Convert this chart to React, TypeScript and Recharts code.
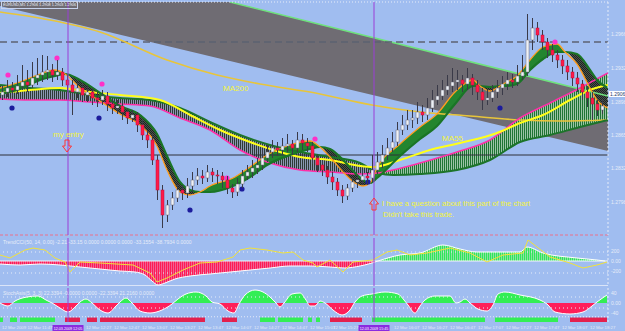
import React from 'react';
import { ComposedChart, Area, Line, Bar, Scatter, XAxis, YAxis, ReferenceLine, ReferenceDot, ReferenceArea } from 'recharts';

const W = 625;
const BG = '#a0bdf0';
const FONT = '"Liberation Sans", Arial, sans-serif';
const T_MAX = 121.6; // bar slots across the 608px plot

// candles, price in points (2906 -> 1.2906)
const opens = [
  2905, 2908, 2912, 2910, 2914, 2918, 2915, 2922, 2925, 2928,
  2930, 2925, 2928, 2920, 2915, 2908, 2912, 2905, 2908, 2902,
  2900, 2904, 2896, 2892, 2894, 2888, 2882, 2885, 2875, 2865,
  2860, 2840, 2810, 2785, 2795, 2802, 2810, 2807, 2814, 2820,
  2824, 2822, 2828, 2825, 2824, 2820, 2812, 2808, 2816, 2824,
  2828, 2832, 2835, 2842, 2848, 2852, 2850, 2854, 2856, 2852,
  2860, 2857, 2854, 2842, 2835, 2830, 2823, 2818, 2810, 2804,
  2812, 2818, 2820, 2824, 2822, 2830, 2838, 2845, 2852, 2858,
  2870, 2875, 2880, 2882, 2888, 2885, 2892, 2900, 2904, 2910,
  2914, 2918, 2920, 2916, 2922, 2915, 2908, 2900, 2902, 2908,
  2912, 2916, 2920, 2918, 2924, 2928, 2960, 2972, 2965, 2958,
  2950, 2945, 2940, 2934, 2928, 2922, 2916, 2908, 2902, 2896,
  2890,
];
const closes = [
  2908, 2912, 2910, 2914, 2918, 2915, 2922, 2925, 2928, 2930,
  2925, 2928, 2920, 2915, 2908, 2912, 2905, 2908, 2902, 2900,
  2904, 2896, 2892, 2894, 2888, 2882, 2885, 2875, 2865, 2860,
  2840, 2810, 2785, 2795, 2802, 2810, 2807, 2814, 2820, 2824,
  2822, 2828, 2825, 2824, 2820, 2812, 2808, 2816, 2824, 2828,
  2832, 2835, 2842, 2848, 2852, 2850, 2854, 2856, 2852, 2860,
  2857, 2854, 2842, 2835, 2830, 2823, 2818, 2810, 2804, 2812,
  2818, 2820, 2824, 2822, 2830, 2838, 2845, 2852, 2858, 2870,
  2875, 2880, 2882, 2888, 2885, 2892, 2900, 2904, 2910, 2914,
  2918, 2920, 2916, 2922, 2915, 2908, 2900, 2902, 2908, 2912,
  2916, 2920, 2918, 2924, 2928, 2960, 2972, 2965, 2958, 2950,
  2945, 2940, 2934, 2928, 2922, 2916, 2908, 2902, 2896, 2890,
  2894,
];
const highs = [
  2914, 2920, 2918, 2925, 2935, 2930, 2938, 2942, 2945, 2944,
  2936, 2940, 2932, 2925, 2920, 2918, 2916, 2915, 2912, 2908,
  2910, 2908, 2900, 2900, 2898, 2892, 2890, 2888, 2880, 2870,
  2866, 2845, 2815, 2800, 2808, 2816, 2815, 2822, 2828, 2832,
  2830, 2835, 2832, 2830, 2828, 2824, 2816, 2822, 2830, 2835,
  2840, 2842, 2850, 2855, 2860, 2858, 2862, 2866, 2860, 2868,
  2866, 2862, 2858, 2846, 2840, 2834, 2828, 2822, 2815, 2816,
  2822, 2825, 2830, 2828, 2845, 2848, 2855, 2862, 2868, 2878,
  2885, 2890, 2890, 2898, 2895, 2902, 2910, 2915, 2920, 2925,
  2932, 2930, 2925, 2932, 2926, 2920, 2912, 2910, 2915, 2920,
  2924, 2928, 2926, 2935, 2945, 2986, 2982, 2978, 2970, 2962,
  2956, 2950, 2945, 2940, 2933, 2928, 2920, 2914, 2908, 2900,
  2900,
];
const lows = [
  2900, 2903, 2904, 2906, 2910, 2908, 2912, 2915, 2918, 2920,
  2918, 2920, 2914, 2908, 2885, 2902, 2898, 2898, 2895, 2893,
  2895, 2889, 2886, 2886, 2880, 2876, 2878, 2868, 2860, 2852,
  2835, 2800, 2772, 2778, 2790, 2798, 2800, 2802, 2808, 2815,
  2816, 2818, 2818, 2816, 2812, 2806, 2802, 2804, 2812, 2820,
  2822, 2826, 2830, 2838, 2842, 2844, 2845, 2848, 2845, 2848,
  2850, 2848, 2836, 2828, 2824, 2816, 2810, 2804, 2797, 2800,
  2808, 2812, 2815, 2815, 2818, 2826, 2832, 2840, 2848, 2854,
  2865, 2870, 2872, 2876, 2878, 2880, 2888, 2895, 2900, 2905,
  2908, 2910, 2908, 2910, 2905, 2900, 2890, 2895, 2898, 2902,
  2905, 2910, 2912, 2914, 2920, 2924, 2950, 2958, 2950, 2942,
  2938, 2932, 2926, 2920, 2914, 2908, 2900, 2893, 2880, 2884,
  2886,
];

// fast ribbon (orange fast MA / green MA)
const fastT = [0, 4, 8, 11, 13, 16, 20, 24, 28, 31.4, 33.4, 36, 38, 40, 42, 46.6, 50, 53.4, 58, 62, 64, 66, 69, 71, 72.6, 74, 75.4, 80, 84, 87.4, 91, 94.6, 96, 98, 100, 101, 103.4, 106, 108.6, 111.4, 113, 115.4, 118, 119.4, 121.6];
const fastOrange = [2912, 2918, 2926, 2930, 2926, 2912, 2899, 2886, 2875, 2854, 2830, 2808, 2805, 2808, 2814, 2822, 2833, 2845, 2855, 2859, 2853, 2843, 2826, 2817, 2814, 2817, 2832, 2856, 2873, 2886, 2908, 2920, 2914, 2909, 2914, 2917, 2924, 2940, 2953, 2956, 2948, 2936, 2912, 2900, 2892];
const fastGreen = [2906, 2911, 2920, 2924, 2926, 2920, 2907, 2894, 2885, 2866, 2844, 2818, 2810, 2808, 2808, 2814, 2823, 2835, 2845, 2851, 2853, 2851, 2838, 2827, 2820, 2817, 2822, 2844, 2861, 2874, 2896, 2914, 2914, 2913, 2914, 2914, 2916, 2930, 2941, 2948, 2948, 2946, 2930, 2920, 2912];

// slow band (pink MA / green MA)
const slowT = [0, 6, 12, 18, 24, 30, 36, 42, 48, 54, 60, 66, 72, 75.6, 78.6, 84, 91.4, 98, 104, 110, 116, 121.6];
const slowPink = [2901, 2900, 2900, 2898, 2896, 2894, 2882, 2870, 2850, 2837, 2830, 2828, 2826, 2827, 2830, 2837, 2848, 2860, 2882, 2897, 2912, 2927];
const slowGreen = [2915, 2912, 2910, 2905, 2902, 2900, 2892, 2878, 2865, 2855, 2848, 2843, 2837, 2827, 2825, 2826, 2830, 2840, 2858, 2865, 2873, 2880];

const ma55T = [0, 6, 12, 18, 24, 32, 38, 44, 50, 56, 60, 66, 72, 74.6, 80, 86, 92, 99.4, 104, 108.6, 114, 118, 121.6];
const ma55 = [2907, 2910, 2912, 2908, 2905, 2900, 2885, 2870, 2858, 2848, 2843, 2840, 2834, 2833, 2840, 2850, 2857, 2867, 2877, 2885, 2900, 2910, 2915];
const ma200T = [0, 10, 20, 33.4, 43.4, 52, 62, 74.4, 84, 94, 104, 112, 121.6];
const ma200 = [2988, 2980, 2968, 2940, 2925, 2916, 2908, 2895, 2888, 2884, 2880, 2879, 2880];

// regression channel
const channelT = [0, 46, 121.6];
const channelTop = [2998, 2998, 2904];
const channelBottom = [2994, 2939, 2849];

const dashedLevel = 2958;
const blackLevel = 2845;
const lastPrice = 2906;

const pinkDotT = [1.6, 11.4, 20.4, 45.4, 63, 111];
const pinkDotV = [2925, 2942, 2916, 2822, 2861, 2958];
const blueDotT = [2.4, 19.8, 38, 48.4, 73.6, 100];
const blueDotV = [2892, 2882, 2790, 2811, 2818, 2892];

const entryT = [13.6, 74.8];
const entryLabels = ['12.03.2009 12:05', '12.03.2009 15:45'];
const priceTicks = [2966, 2932, 2898, 2865, 2832, 2798];

// TrendCCI panel
const histNegT = [0, 4, 8, 12, 16, 20, 24, 27, 29, 30.4, 31.6, 33, 35, 38, 42, 46, 50, 54, 58, 62, 66, 69, 72, 74.4, 75.6];
const histNeg = [-60, -80, -60, -80, -120, -160, -200, -220, -280, -400, -480, -440, -360, -300, -260, -220, -180, -140, -100, -100, -120, -140, -100, -40, 0];
const histPosT = [75.6, 80, 84, 88.6, 92, 95.4, 100, 104, 105.4, 108.6, 115.4, 119.4, 121];
const histPos = [0, 120, 160, 320, 240, 180, 180, 180, 280, 160, 60, 20, 0];
const cciT = [0, 2, 5, 6.6, 9, 11, 13, 14, 16, 20, 26.6, 30, 31.4, 33.4, 36.6, 40, 43.4, 46.6, 48, 50, 53.4, 56.6, 58.6, 60.6, 62.6, 63.4, 66, 68.6, 70.6, 74.6, 77.4, 79.4, 82, 85.4, 90, 94, 97.4, 100.6, 104.6, 105.6, 107.4, 110, 114, 116.6, 119.4, 121.4];
const cci = [120, 60, 220, 260, 220, 60, -20, -220, -20, -40, -80, -240, -420, -340, -180, -40, -20, 80, 220, 260, 220, 160, 180, 20, -40, -120, 20, -220, -20, 20, 180, 220, 120, 160, 260, 160, -20, 120, 160, 420, 280, 80, -40, -140, -80, -20];
const cciTicks = [360.69, 200, 100, 0, -100, -200];

// oscillator panel
const oscT = [0, 1.6, 3, 5.4, 7.6, 9.2, 10.4, 12, 13.6, 15.2, 16, 17.2, 18.4, 20, 21.6, 23.2, 24, 25.2, 26.4, 28, 30, 32.4, 34.4, 35.6, 37.2, 39.2, 41.2, 42.4, 44, 45.6, 46.8, 47.8, 49, 51, 52.6, 54, 55.2, 56, 56.8, 58.4, 60, 61.2, 62, 63, 64, 65, 66.6, 68.4, 70, 71, 72.4, 74.4, 77, 79.6, 80.8, 81.6, 83, 84, 85, 87, 90, 91.2, 92, 93, 94, 95.6, 97.4, 98.6, 99.6, 101, 104, 108, 109.4, 111, 114, 116.6, 118.4, 119.4, 121.4];
const osc = [0, -12, 8, 24, 28, 12, 0, -20, -36, -12, 4, 16, 0, -28, -40, -12, 4, 20, 0, -32, -40, -28, -4, 16, 36, 44, 28, 4, -4, -32, -40, -4, 32, 52, 44, 24, 0, -16, 0, 36, 40, 12, -12, -12, 8, 0, -28, -48, -28, 4, 28, 36, 44, 36, 12, -8, -40, -12, 12, 28, 28, 0, 4, 16, 0, -24, -32, -8, 36, 44, 32, 12, -4, -36, -44, -36, -12, 4, 32];
const oscTicks = [40, 20, 0, -20, -40];

// signal strip: 1 = buy, -1 = sell
const stripFrom = [0, 2, 4, 13, 17.4, 20, 44.4, 52, 55.6, 61.6, 63.2, 66, 74.4, 99, 114];
const stripTo = [0.6, 3.4, 11, 16, 19.4, 41, 47.4, 55, 60.6, 62.4, 64, 72.4, 97, 111.6, 121.4];
const stripSide = [1, 1, 1, -1, -1, -1, -1, 1, 1, 1, 1, -1, 1, 1, -1];

// time axis (labels under the two marker boxes are hidden in the reference)
const timeT = [0.4, 5.5, 17.2, 22.8, 28.4, 34, 39.6, 45.2, 50.8, 56.4, 62, 66.6, 78.8, 84.4, 90, 95.6, 101.2, 106.8, 112.4, 118];
const timeLabels = ['12 Mar 2009', '12 Mar 11:47', '12 Mar 12:27', '12 Mar 12:47', '12 Mar 13:07', '12 Mar 13:27', '12 Mar 13:47', '12 Mar 14:07', '12 Mar 14:27', '12 Mar 14:47', '12 Mar 15:07', '12 Mar 15:27', '12 Mar 16:07', '12 Mar 16:27', '12 Mar 16:47', '12 Mar 17:07', '12 Mar 17:27', '12 Mar 17:47', '12 Mar 18:07', '12 Mar 18:27'];

const candles = closes.map((c, i) => ({ t: i + 0.5, o: opens[i], h: highs[i], l: lows[i], c }));
const ribbon = fastT.map((t, i) => {
  const o = fastOrange[i];
  const g = fastGreen[i];
  return { t, o, g, bull: [g, Math.max(o, g)], bear: [Math.min(o, g), g] };
});
const slow = slowT.map((t, i) => ({ t, p: slowPink[i], g: slowGreen[i], band: [Math.min(slowPink[i], slowGreen[i]), Math.max(slowPink[i], slowGreen[i])] }));
const slowLeft = slow.filter((d) => d.t <= 75.6);
const slowRight = slow.filter((d) => d.t >= 75.6);
const ma55Data = ma55T.map((t, i) => ({ t, v: ma55[i] }));
const ma200Data = ma200T.map((t, i) => ({ t, v: ma200[i] }));
const channel = channelT.map((t, i) => ({ t, top: channelTop[i], band: [channelBottom[i], channelTop[i]] }));
const pinkDots = pinkDotT.map((t, i) => ({ t, v: pinkDotV[i] }));
const blueDots = blueDotT.map((t, i) => ({ t, v: blueDotV[i] }));
const histNegData = histNegT.map((t, i) => ({ t, v: histNeg[i] }));
const histPosData = histPosT.map((t, i) => ({ t, v: histPos[i] }));
const cciData = cciT.map((t, i) => ({ t, v: cci[i] }));
const oscData = oscT.map((t, i) => ({ t, v: osc[i] }));
const oscMax = Math.max(...osc);
const oscMin = Math.min(...osc);
const oscSplit = oscMax / (oscMax - oscMin);

const notes = [
  { t: 10.6, v: 2863, text: 'my entry' },
  { t: 44.6, v: 2909, text: 'MA200' },
  { t: 88.4, v: 2859, text: 'MA55' },
  { t: 76.4, v: 2794, text: 'I have a question about this part of the chart' },
  { t: 76.6, v: 2783, text: "Didn't take this trade." },
];

const tickStyle = { fontSize: 5, fill: '#e6ecf8', fontFamily: FONT };

const Candle = (p: any) => {
  const { x, y, width, height, payload } = p;
  if (!payload) return null;
  const { o, h, l, c } = payload;
  const top = Math.min(y, y + height);
  const span = Math.abs(height);
  const k = span / (h - l || 1);
  const yOf = (v: number) => top + (h - v) * k;
  const cx = x + width / 2;
  const up = c >= o;
  const bTop = yOf(Math.max(o, c));
  const bH = Math.max(1, yOf(Math.min(o, c)) - bTop);
  return (
    <g>
      <line x1={cx} x2={cx} y1={top} y2={top + span} stroke="#3a3a48" strokeWidth={1} />
      <rect x={x} y={bTop} width={width} height={bH} fill={up ? '#eef1f6' : '#ff1a4a'} stroke={up ? '#6a6a7a' : '#b8103a'} strokeWidth={0.5} />
    </g>
  );
};

const Dot = (color: string) => (p: any) => <circle cx={p.cx} cy={p.cy} r={2.6} fill={color} />;

const ArrowDown = (p: any) => {
  const { cx, cy } = p;
  const d = `M${cx - 2},${cy - 6} L${cx + 2},${cy - 6} L${cx + 2},${cy} L${cx + 4.5},${cy} L${cx},${cy + 6} L${cx - 4.5},${cy} L${cx - 2},${cy} Z`;
  return <path d={d} fill="none" stroke="#ff3434" strokeWidth={1} />;
};
const ArrowUp = (p: any) => {
  const { cx, cy } = p;
  const d = `M${cx - 2},${cy + 6} L${cx + 2},${cy + 6} L${cx + 2},${cy} L${cx + 4.5},${cy} L${cx},${cy - 6} L${cx - 4.5},${cy} L${cx - 2},${cy} Z`;
  return <path d={d} fill="none" stroke="#ff3434" strokeWidth={1} />;
};

const PriceBox = ({ viewBox, text }: any) => {
  if (!viewBox) return null;
  const x = viewBox.x + viewBox.width;
  return (
    <g>
      <rect x={x + 1} y={viewBox.y - 3} width={16} height={6} fill="#ffffff" />
      <text x={x + 2} y={viewBox.y + 1.8} fontSize={5} fill="#2a3a6a" fontFamily={FONT}>{text}</text>
    </g>
  );
};

const TimeBox = ({ viewBox, text }: any) => {
  if (!viewBox) return null;
  const y = viewBox.y + viewBox.height;
  return (
    <g>
      <rect x={viewBox.x - 15.5} y={y + 3} width={31} height={6} fill="#8a2be0" />
      <text x={viewBox.x} y={y + 7.5} fontSize={3.7} textAnchor="middle" fill="#ffffff" fontFamily={FONT}>{text}</text>
    </g>
  );
};

const TimeTick = (p: any) => {
  const i = timeT.indexOf(p.payload?.value);
  return <text x={p.x} y={p.y + 6.5} fontSize={4.3} fill="#e3e9f6" fontFamily={FONT}>{timeLabels[i] ?? ''}</text>;
};

const noAnim = { isAnimationActive: false };

export default function App() {
  return (
    <div style={{ position: 'relative', width: W, height: 331, background: BG, overflow: 'hidden', fontFamily: FONT }}>
      <style>{'body{margin:0}'}</style>

      {/* main panel: channel, moving averages, ribbons */}
      <div style={{ position: 'absolute', left: 0, top: 0 }}>
        <ComposedChart width={W} height={236} margin={{ top: 2, right: 17, bottom: 1, left: 0 }}>
          <defs>
            <pattern id="stripeBear" width="2" height="4" patternUnits="userSpaceOnUse">
              <rect width="2" height="4" fill="#8a98b2" />
              <rect width="1" height="4" fill="#2f3a35" />
            </pattern>
            <pattern id="stripeBull" width="2" height="4" patternUnits="userSpaceOnUse">
              <rect width="2" height="4" fill="#9cc4a6" />
              <rect width="1" height="4" fill="#1f7434" />
            </pattern>
            <pattern id="ribbonBear" width="2" height="2" patternUnits="userSpaceOnUse">
              <rect width="2" height="2" fill="#4a524c" />
              <rect width="1" height="1" fill="#1e2420" />
              <rect x="1" y="1" width="1" height="1" fill="#1e2420" />
            </pattern>
          </defs>
          <XAxis type="number" dataKey="t" domain={[0, T_MAX]} allowDataOverflow hide />
          <YAxis type="number" domain={[2765, 2998]} allowDataOverflow hide />
          <Area data={channel} dataKey="band" type="linear" fill="#6f6c73" fillOpacity={1} stroke="none" {...noAnim} />
          <Line data={channel.slice(1)} dataKey="top" type="linear" stroke="#6fe27c" strokeWidth={1.5} dot={false} activeDot={false} {...noAnim} />
          <ReferenceLine y={dashedLevel} stroke="#5c6272" strokeWidth={1.5} strokeDasharray="7 4" />
          <ReferenceLine y={blackLevel} stroke="#2e3038" strokeWidth={1} />
          <Line data={ma200Data} dataKey="v" type="monotone" stroke="#e8c53a" strokeWidth={1.5} dot={false} activeDot={false} {...noAnim} />
          <Area data={slowLeft} dataKey="band" type="monotone" fill="url(#stripeBear)" fillOpacity={1} stroke="none" {...noAnim} />
          <Area data={slowRight} dataKey="band" type="monotone" fill="url(#stripeBull)" fillOpacity={1} stroke="none" {...noAnim} />
          <Line data={slow} dataKey="g" type="monotone" stroke="#1d742a" strokeWidth={2} dot={false} activeDot={false} {...noAnim} />
          <Line data={slow} dataKey="p" type="monotone" stroke="#ff2fa8" strokeWidth={1.5} dot={false} activeDot={false} {...noAnim} />
          <Line data={ma55Data} dataKey="v" type="monotone" stroke="#ffff1a" strokeWidth={2} dot={false} activeDot={false} {...noAnim} />
          <Area data={ribbon} dataKey="bear" type="monotone" fill="url(#ribbonBear)" fillOpacity={1} stroke="none" {...noAnim} />
          <Area data={ribbon} dataKey="bull" type="monotone" fill="#23852f" fillOpacity={1} stroke="none" {...noAnim} />
          <Line data={ribbon} dataKey="g" type="monotone" stroke="#1a7526" strokeWidth={2.2} dot={false} activeDot={false} {...noAnim} />
          <Line data={ribbon} dataKey="o" type="monotone" stroke="#ff9d1f" strokeWidth={1.3} dot={false} activeDot={false} {...noAnim} />
          <Scatter data={pinkDots} dataKey="v" shape={Dot('#ff30c8')} {...noAnim} />
          <Scatter data={blueDots} dataKey="v" shape={Dot('#1c1c9c')} {...noAnim} />
        </ComposedChart>
      </div>

      {/* main panel: candles, price axis, annotations */}
      <div style={{ position: 'absolute', left: 0, top: 0 }}>
        <ComposedChart width={W} height={236} data={candles} margin={{ top: 2, right: 0, bottom: 1, left: 0 }}>
          <XAxis type="number" dataKey="t" domain={[0, T_MAX]} allowDataOverflow hide />
          <YAxis
            type="number"
            orientation="right"
            width={17}
            domain={[2765, 2998]}
            allowDataOverflow
            ticks={priceTicks}
            tickFormatter={(v: number) => `1.${v}`}
            tick={tickStyle}
            tickLine={false}
            tickSize={0}
            tickMargin={3}
            axisLine={{ stroke: '#e6ecf8', strokeDasharray: '2 2' }}
          />
          <Bar dataKey={(d: any) => [d.l, d.h]} barSize={3} shape={(p: any) => <Candle {...p} />} {...noAnim} />
          <ReferenceLine y={2998} stroke="#e6ecf8" strokeDasharray="1 2" />
          <ReferenceLine y={2765} stroke="#e8708c" strokeDasharray="3 2" />
          <ReferenceLine y={lastPrice} stroke="none" label={<PriceBox text={`1.${lastPrice}`} />} />
          {entryT.map((t) => (
            <ReferenceLine key={t} x={t} stroke="#9b3fd6" strokeWidth={1} />
          ))}
          <ReferenceDot x={13.4} y={2854} r={0} shape={ArrowDown} />
          <ReferenceDot x={74.8} y={2796} r={0} shape={ArrowUp} />
          {notes.map((n) => (
            <ReferenceDot
              key={n.text}
              x={n.t}
              y={n.v}
              r={0}
              shape={(p: any) => (
                <text x={p.cx} y={p.cy} fontSize={n.text.length > 10 ? 7.6 : 8} fill="#f4f43c" fontFamily={FONT}>{n.text}</text>
              )}
            />
          ))}
        </ComposedChart>
      </div>

      {/* TrendCCI panel */}
      <div style={{ position: 'absolute', left: 0, top: 236 }}>
        <ComposedChart width={W} height={50} margin={{ top: 2, right: 0, bottom: 0, left: 0 }}>
          <defs>
            <pattern id="histRed" width="2" height="4" patternUnits="userSpaceOnUse">
              <rect width="2" height="4" fill="#f06090" />
              <rect width="1" height="4" fill="#ff1a55" />
            </pattern>
            <pattern id="histGreen" width="2" height="4" patternUnits="userSpaceOnUse">
              <rect width="2" height="4" fill="#8be0a0" />
              <rect width="1" height="4" fill="#2ee85a" />
            </pattern>
          </defs>
          <XAxis type="number" dataKey="t" domain={[0, T_MAX]} allowDataOverflow hide />
          <YAxis
            type="number"
            orientation="right"
            width={17}
            domain={[-500, 460]}
            allowDataOverflow
            ticks={cciTicks}
            tickFormatter={(v: number) => (v === 0 ? '0.00' : String(v))}
            tick={tickStyle}
            tickLine={false}
            tickSize={0}
            tickMargin={3}
            axisLine={{ stroke: '#e6ecf8', strokeDasharray: '2 2' }}
          />
          <ReferenceLine y={180} stroke="#e6ecf8" strokeDasharray="1 3" />
          <ReferenceLine y={-240} stroke="#e6ecf8" strokeDasharray="1 3" />
          <Area data={histNegData} dataKey="v" type="monotone" baseValue={0} fill="url(#histRed)" fillOpacity={1} stroke="#ffffff" strokeWidth={1} {...noAnim} />
          <Area data={histPosData} dataKey="v" type="monotone" baseValue={0} fill="url(#histGreen)" fillOpacity={1} stroke="#ffffff" strokeWidth={1} {...noAnim} />
          <ReferenceLine y={0} stroke="#f4f6fc" strokeWidth={1} />
          <Line data={cciData} dataKey="v" type="linear" stroke="#f2e23a" strokeWidth={1} dot={false} activeDot={false} {...noAnim} />
          <ReferenceLine y={-500} stroke="#eef2fb" strokeWidth={1.5} />
          {entryT.map((t) => (
            <ReferenceLine key={t} x={t} stroke="#9b3fd6" strokeWidth={1} />
          ))}
        </ComposedChart>
      </div>

      {/* oscillator panel, signal strip and time axis */}
      <div style={{ position: 'absolute', left: 0, top: 286 }}>
        <ComposedChart width={W} height={45} margin={{ top: 2, right: 0, bottom: 0, left: 0 }}>
          <defs>
            <linearGradient id="oscSplit" x1="0" y1="0" x2="0" y2="1">
              <stop offset={oscSplit} stopColor="#33ee55" />
              <stop offset={oscSplit} stopColor="#ff1f5a" />
            </linearGradient>
          </defs>
          <XAxis
            type="number"
            dataKey="t"
            domain={[0, T_MAX]}
            allowDataOverflow
            ticks={timeT}
            interval={0}
            height={9}
            axisLine={false}
            tickLine={false}
            tickSize={0}
            tickMargin={0}
            tick={<TimeTick />}
          />
          <YAxis
            type="number"
            orientation="right"
            width={17}
            domain={[-76, 60]}
            allowDataOverflow
            ticks={oscTicks}
            tickFormatter={(v: number) => (v === 0 ? '0.00' : String(v))}
            tick={tickStyle}
            tickLine={false}
            tickSize={0}
            tickMargin={3}
            axisLine={{ stroke: '#e6ecf8', strokeDasharray: '2 2' }}
          />
          <ReferenceLine y={24} stroke="#e6ecf8" strokeDasharray="1 3" />
          <ReferenceLine y={-20} stroke="#e6ecf8" strokeDasharray="1 3" />
          <Area data={oscData} dataKey="v" type="monotone" baseValue={0} fill="url(#oscSplit)" fillOpacity={1} stroke="#ffffff" strokeWidth={1} {...noAnim} />
          <ReferenceLine y={-55} stroke="#e6ecf8" strokeDasharray="1 2" />
          {stripFrom.map((f, i) => (
            <ReferenceArea key={f} x1={f} x2={stripTo[i]} y1={-76} y2={-58} fill={stripSide[i] > 0 ? '#33ee55' : '#e3204e'} fillOpacity={1} stroke="none" />
          ))}
          {entryT.map((t, i) => (
            <ReferenceLine key={t} x={t} stroke="#9b3fd6" strokeWidth={1} label={<TimeBox text={entryLabels[i]} />} />
          ))}
        </ComposedChart>
      </div>

      <div style={{ position: 'absolute', left: 1, top: 1, padding: '0 1px', height: 6, border: '1px solid #c8d4ee', fontSize: 3.8, lineHeight: '6px', color: '#eef2fb', whiteSpace: 'nowrap' }}>
        EURUSD,M5 1.2906 1.2908 1.2903 1.2906
      </div>
      <div style={{ position: 'absolute', left: 3, top: 239, fontSize: 5, lineHeight: '6px', color: '#e6ecf8', whiteSpace: 'nowrap' }}>
        TrendCCI(50, 14, 0.00) -2.21 -33.15 0.0000 0.0000 0.0000 -33.1554 -38.7934 0.0000
      </div>
      <div style={{ position: 'absolute', left: 3, top: 290, fontSize: 5, lineHeight: '6px', color: '#e6ecf8', whiteSpace: 'nowrap' }}>
        StochAsis(5, 3, 3) 22.3394 -0.0000 0.0000 -22.3394 21.2160 0.0000
      </div>
    </div>
  );
}
